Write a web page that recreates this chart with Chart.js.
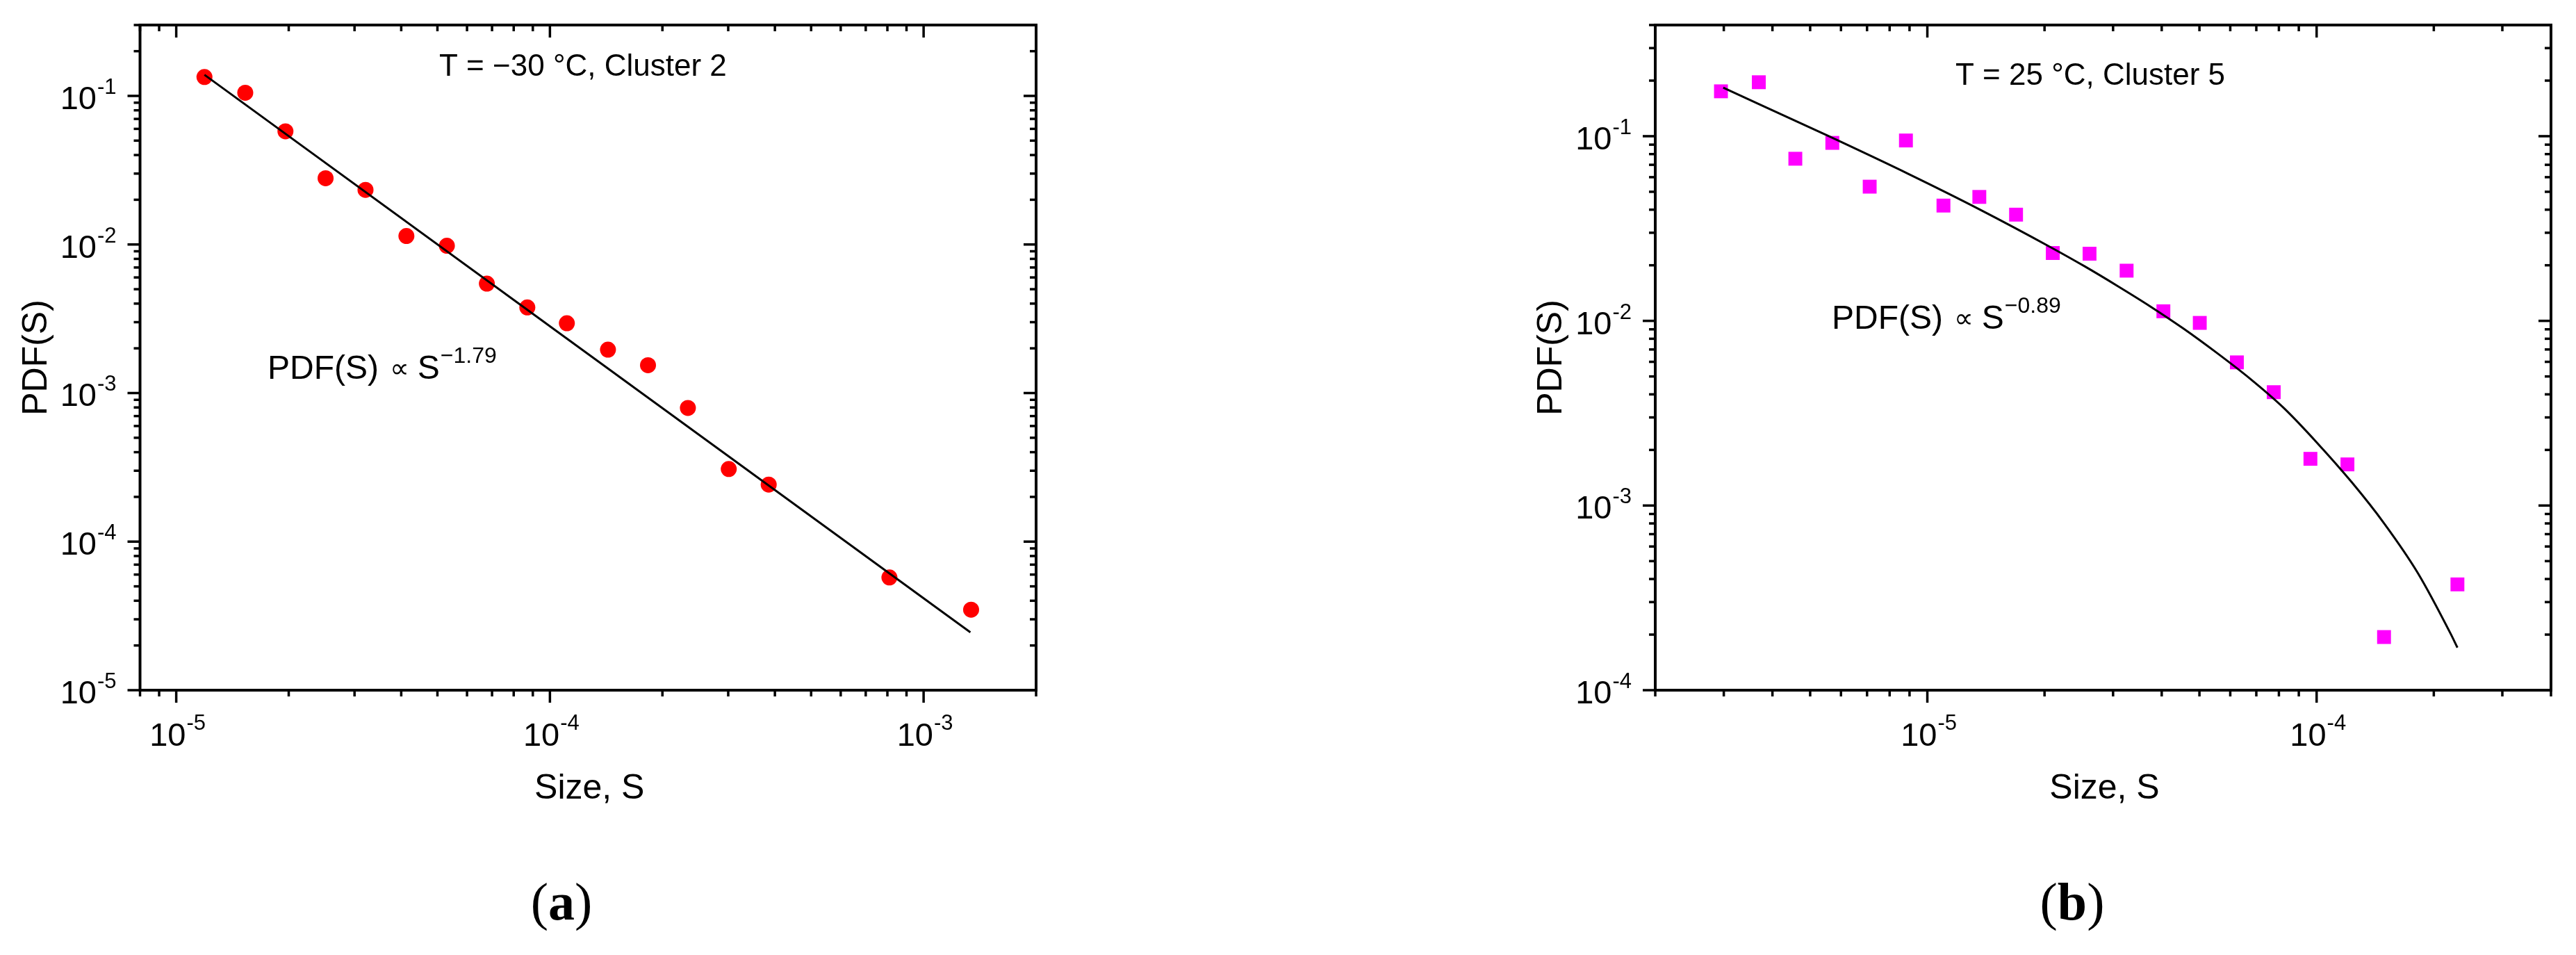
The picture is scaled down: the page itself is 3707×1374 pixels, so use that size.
<!DOCTYPE html>
<html>
<head>
<meta charset="utf-8">
<script src="https://cdn.jsdelivr.net/npm/chart.js@4.4.1/dist/chart.umd.min.js"></script>
<style>
html,body{margin:0;padding:0;background:#fff;width:3707px;height:1374px;overflow:hidden}
canvas{position:absolute;top:0}
#chartA{left:0}
#chartB{left:1853px}
</style>
</head>
<body>
<canvas id="chartA" width="1853" height="1374"></canvas>
<canvas id="chartB" width="1854" height="1374"></canvas>
<script>
// ---------- Panel (a): T = -30 °C, Cluster 2 ----------
const sizeA = [1.19e-5, 1.53e-5, 1.96e-5, 2.51e-5, 3.21e-5, 4.13e-5, 5.30e-5, 6.78e-5, 8.70e-5,
               1.11e-4, 1.43e-4, 1.83e-4, 2.34e-4, 3.01e-4, 3.85e-4, 8.10e-4, 1.34e-3];
const pdfA  = [0.134, 0.105, 0.0578, 0.0279, 0.0233, 0.0114, 0.0098, 0.00545, 0.00377,
               0.00295, 0.00196, 0.00154, 0.000794, 0.000308, 0.000242, 5.74e-5, 3.48e-5];
const fitSizeA = [1.19e-5, 1.334e-3];
const fitPdfA  = [0.1387, 2.45e-5];
const xRangeA = [8e-6, 2e-3];
const yRangeA = [1e-5, 0.3];
const xTicksA = [1e-5, 1e-4, 1e-3];
const xExpA   = ['-5', '-4', '-3'];
const yTicksA = [1e-1, 1e-2, 1e-3, 1e-4, 1e-5];
const yExpA   = ['-1', '-2', '-3', '-4', '-5'];
const titleA  = 'T = \u221230 \u00B0C, Cluster 2';
const lawExpA = '\u22121.79';
const captionA = 'a';

// ---------- Panel (b): T = 25 °C, Cluster 5 ----------
const sizeB = [2.95e-6, 3.69e-6, 4.58e-6, 5.70e-6, 7.11e-6, 8.81e-6, 1.10e-5, 1.36e-5, 1.69e-5, 2.10e-5,
               2.61e-5, 3.25e-5, 4.04e-5, 5.01e-5, 6.24e-5, 7.76e-5, 9.64e-5, 1.20e-4, 1.49e-4, 2.30e-4];
const pdfB  = [0.175, 0.196, 0.0755, 0.092, 0.0533, 0.0948, 0.0421, 0.0469, 0.0376, 0.0233,
               0.0231, 0.0187, 0.01127, 0.00975, 0.00596, 0.00411, 0.00179, 0.00167, 0.000194, 0.000374];
const fitSizeB = [2.99e-6, 5.57e-6, 8.95e-6, 1.36e-5, 2.07e-5, 2.54e-5, 3.08e-5, 3.74e-5, 4.55e-5,
                  5.54e-5, 6.78e-5, 8.24e-5, 1.004e-4, 1.23e-4, 1.49e-4, 1.82e-4, 2.21e-4, 2.30e-4];
const fitPdfB  = [0.183, 0.1002, 0.0624, 0.0402, 0.0251, 0.0197, 0.01545, 0.01197, 0.00908,
                  0.00671, 0.00482, 0.00337, 0.00218, 0.00134, 0.000802, 0.000431, 0.000202, 0.000170];
const xRangeB = [2e-6, 4e-4];
const yRangeB = [1e-4, 0.4];
const xTicksB = [1e-5, 1e-4];
const xExpB   = ['-5', '-4'];
const yTicksB = [1e-1, 1e-2, 1e-3, 1e-4];
const yExpB   = ['-1', '-2', '-3', '-4'];
const titleB  = 'T = 25 \u00B0C, Cluster 5';
const lawExpB = '\u22120.89';
const captionB = 'b';

const xTitle = 'Size, S';
const yTitle = 'PDF(S)';
const lawText = 'PDF(S)';

const SANS = '"Liberation Sans", Arial, sans-serif';
const SERIF = '"Liberation Serif", "Times New Roman", serif';

function toPts(xs, ys) { return xs.map((x, i) => ({x: x, y: ys[i]})); }

function minorValues(min, max) {
  const out = [];
  const d0 = Math.floor(Math.log10(min)) - 1, d1 = Math.ceil(Math.log10(max)) + 1;
  for (let d = d0; d <= d1; d++) {
    for (let m = 2; m <= 9; m++) {
      const v = m * Math.pow(10, d);
      if (v >= min * 0.999 && v <= max * 1.001) out.push(v);
    }
  }
  return out;
}

function powLabel(ctx, exp, x, yBase, yExp, align) {
  ctx.font = '47px ' + SANS;
  const wb = ctx.measureText('10').width;
  ctx.font = '31px ' + SANS;
  const we = ctx.measureText(exp).width;
  const gap = 1;
  const total = wb + gap + we;
  const x0 = align === 'right' ? x - total : x - total / 2;
  ctx.textAlign = 'left';
  ctx.textBaseline = 'alphabetic';
  ctx.font = '47px ' + SANS;
  ctx.fillText('10', x0, yBase);
  ctx.font = '31px ' + SANS;
  ctx.fillText(exp, x0 + wb + gap, yExp);
}

function makeFramePlugin(cfg) {
  return {
    id: 'frame_' + cfg.name,
    afterDatasetsDraw(chart) {
      const ctx = chart.ctx, a = chart.chartArea;
      const xs = chart.scales.x, ys = chart.scales.y;
      ctx.save();
      ctx.strokeStyle = '#000';
      ctx.fillStyle = '#000';
      ctx.lineCap = 'butt';
      const MAJ = 18, MIN = 9;
      const line = (x1, y1, x2, y2) => { ctx.beginPath(); ctx.moveTo(x1, y1); ctx.lineTo(x2, y2); ctx.stroke(); };
      ctx.lineWidth = 3.5;
      const tickX = (v, len) => {
        const p = xs.getPixelForValue(v);
        line(p, a.bottom, p, a.bottom + len);
        line(p, a.top, p, a.top + len);
      };
      const tickY = (v, len) => {
        const p = ys.getPixelForValue(v);
        line(a.left - len, p, a.left, p);
        line(a.right - len, p, a.right, p);
      };
      minorValues(xs.min, xs.max).forEach(v => tickX(v, MIN));
      cfg.xTicks.forEach(v => tickX(v, MAJ));
      minorValues(ys.min, ys.max).forEach(v => tickY(v, MIN));
      cfg.yTicks.forEach(v => tickY(v, MAJ));
      // frame
      ctx.lineWidth = 4;
      ctx.strokeRect(a.left, a.top, a.right - a.left, a.bottom - a.top);

      // tick labels
      cfg.xTicks.forEach((v, i) => {
        const p = xs.getPixelForValue(v);
        powLabel(ctx, cfg.xExp[i], p + 2, a.bottom + 80, a.bottom + 57, 'center');
      });
      cfg.yTicks.forEach((v, i) => {
        const p = ys.getPixelForValue(v);
        powLabel(ctx, cfg.yExp[i], a.left - 34, p + 19, p - 3, 'right');
      });

      // axis titles
      ctx.font = '50px ' + SANS;
      ctx.textAlign = 'center';
      ctx.textBaseline = 'alphabetic';
      ctx.fillText(xTitle, (a.left + a.right) / 2 + 2, a.bottom + 156);
      ctx.save();
      ctx.translate(a.left - 135, (a.top + a.bottom) / 2);
      ctx.rotate(-Math.PI / 2);
      ctx.fillText(yTitle, 0, 0);
      ctx.restore();

      // panel title
      ctx.font = '44px ' + SANS;
      ctx.textAlign = 'left';
      ctx.fillText(cfg.title, a.left + cfg.titleDx, cfg.titleY);

      // power-law annotation
      let x = a.left + cfg.lawDx;
      const yb = cfg.lawY;
      ctx.font = '48px ' + SANS;
      ctx.fillText(lawText, x, yb);
      x += ctx.measureText(lawText).width + 16;
      ctx.font = '39px "DejaVu Sans", sans-serif';
      ctx.fillText('\u221D', x, yb - 2);
      x += ctx.measureText('\u221D').width + 12;
      ctx.font = '48px ' + SANS;
      ctx.fillText('S', x, yb);
      x += ctx.measureText('S').width + 1;
      ctx.font = '32px ' + SANS;
      ctx.fillText(cfg.lawExp, x, yb - 23);

      // caption (a)/(b)
      ctx.font = '76px ' + SERIF;
      const wp = ctx.measureText('(').width, wq = ctx.measureText(')').width;
      ctx.font = 'bold 76px ' + SERIF;
      const wl = ctx.measureText(cfg.caption).width;
      let cx = cfg.captionX - (wp + wl + wq) / 2;
      ctx.font = '76px ' + SERIF;
      ctx.fillText('(', cx, 1323);
      cx += wp;
      ctx.font = 'bold 76px ' + SERIF;
      ctx.fillText(cfg.caption, cx, 1323);
      cx += wl;
      ctx.font = '76px ' + SERIF;
      ctx.fillText(')', cx, 1323);
      ctx.restore();
    }
  };
}

function makeChart(canvasId, cfg) {
  return new Chart(document.getElementById(canvasId), {
    type: 'scatter',
    data: {
      datasets: [
        {
          type: 'line',
          data: toPts(cfg.fitX, cfg.fitY),
          borderColor: '#000',
          borderWidth: 3,
          pointRadius: 0,
          fill: false,
          cubicInterpolationMode: 'monotone',
          order: 0
        },
        {
          type: 'scatter',
          data: toPts(cfg.dataX, cfg.dataY),
          backgroundColor: cfg.color,
          borderColor: cfg.color,
          borderWidth: 0,
          pointStyle: cfg.pointStyle,
          pointRadius: cfg.pointRadius,
          order: 1
        }
      ]
    },
    options: {
      responsive: false,
      animation: false,
      devicePixelRatio: 1,
      events: [],
      layout: { padding: cfg.padding },
      plugins: { legend: { display: false }, tooltip: { enabled: false } },
      scales: {
        x: { type: 'logarithmic', min: cfg.xRange[0], max: cfg.xRange[1], display: false },
        y: { type: 'logarithmic', min: cfg.yRange[0], max: cfg.yRange[1], display: false }
      }
    },
    plugins: [makeFramePlugin(cfg)]
  });
}

makeChart('chartA', {
  name: 'a',
  dataX: sizeA, dataY: pdfA, fitX: fitSizeA, fitY: fitPdfA,
  xRange: xRangeA, yRange: yRangeA,
  xTicks: xTicksA, xExp: xExpA, yTicks: yTicksA, yExp: yExpA,
  color: '#ff0000', pointStyle: 'circle', pointRadius: 11.5,
  padding: { left: 201.5, right: 362, top: 36, bottom: 381 },
  title: titleA, titleDx: 430.5, titleY: 109,
  lawExp: lawExpA, lawDx: 183.5, lawY: 545,
  caption: captionA, captionX: 808
});

makeChart('chartB', {
  name: 'b',
  dataX: sizeB, dataY: pdfB, fitX: fitSizeB, fitY: fitPdfB,
  xRange: xRangeB, yRange: yRangeB,
  xTicks: xTicksB, xExp: xExpB, yTicks: yTicksB, yExp: yExpB,
  color: '#ff00ff', pointStyle: 'rect', pointRadius: 14.1,
  padding: { left: 529, right: 36, top: 36, bottom: 381 },
  title: titleB, titleDx: 432, titleY: 122,
  lawExp: lawExpB, lawDx: 254, lawY: 473,
  caption: captionB, captionX: 1129
});
</script>
</body>
</html>
